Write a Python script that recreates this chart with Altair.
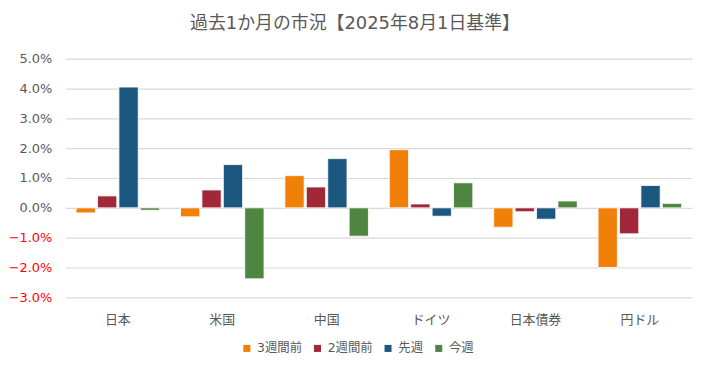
import altair as alt
import pandas as pd

categories = ["日本", "米国", "中国", "ドイツ", "日本債券", "円ドル"]
series = ["3週間前", "2週間前", "先週", "今週"]
colors = ["#F08008", "#A12838", "#1B577F", "#4E8540"]

v_3w = [-0.17, -0.30, 1.08, 1.95, -0.65, -2.00]
v_2w = [0.40, 0.60, 0.70, 0.13, -0.13, -0.87]
v_1w = [4.05, 1.45, 1.65, -0.28, -0.38, 0.75]
v_now = [-0.08, -2.38, -0.95, 0.84, 0.23, 0.15]

rows = []
for s, vals in zip(series, [v_3w, v_2w, v_1w, v_now]):
    for c, v in zip(categories, vals):
        rows.append({"市場": c, "系列": s, "値": v})
df = pd.DataFrame(rows)

font = "DejaVu Sans, Noto Sans CJK JP"
cjk = "Noto Sans CJK JP"
grey = "#595959"

chart = alt.Chart(df).mark_bar(stroke="white", strokeWidth=0.8).encode(
    x=alt.X("市場:N", sort=categories, title=None,
            scale=alt.Scale(paddingInner=0.2, paddingOuter=0.1),
            axis=alt.Axis(labelAngle=0, ticks=False, domain=False, labelColor=grey,
                          labelFontSize=13, labelFont=cjk, labelPadding=16)),
    xOffset=alt.XOffset("系列:N", sort=series, scale=alt.Scale(paddingInner=0.1, paddingOuter=0)),
    y=alt.Y("値:Q", title=None,
            scale=alt.Scale(domain=[-3, 5], nice=False),
            axis=alt.Axis(values=[-3, -2, -1, 0, 1, 2, 3, 4, 5],
                          labelExpr="format(datum.value, '.1f') + '%'",
                          labelColor=alt.condition("datum.value < 0", alt.value("#FF0000"), alt.value(grey)),
                          labelFontSize=13, labelFont="DejaVu Sans", labelPadding=14,
                          minExtent=52, maxExtent=52,
                          ticks=False, domain=False, gridColor="#D9D9D9", gridWidth=1.2)),
    color=alt.Color("系列:N", sort=series,
                    scale=alt.Scale(domain=series, range=colors),
                    legend=alt.Legend(orient="none", legendX=176, legendY=285,
                                      direction="horizontal", title=None,
                                      symbolType="square", symbolSize=50, labelFontSize=12.5,
                                      labelFont=font, labelColor=grey, columnPadding=9,
                                      labelOffset=4, symbolStrokeWidth=0)),
).properties(
    width=630, height=240,
    title=alt.TitleParams("過去1か月の市況【2025年8月1日基準】", fontSize=18, font=font,
                          color=grey, fontWeight="normal", anchor="middle", frame="bounds",
                          offset=20, dx=5),
).configure(padding={"left": 0, "top": 6, "right": 7, "bottom": 0}).configure_view(stroke=None)

chart.save("out.html", embed_options={"renderer": "svg", "actions": False})
